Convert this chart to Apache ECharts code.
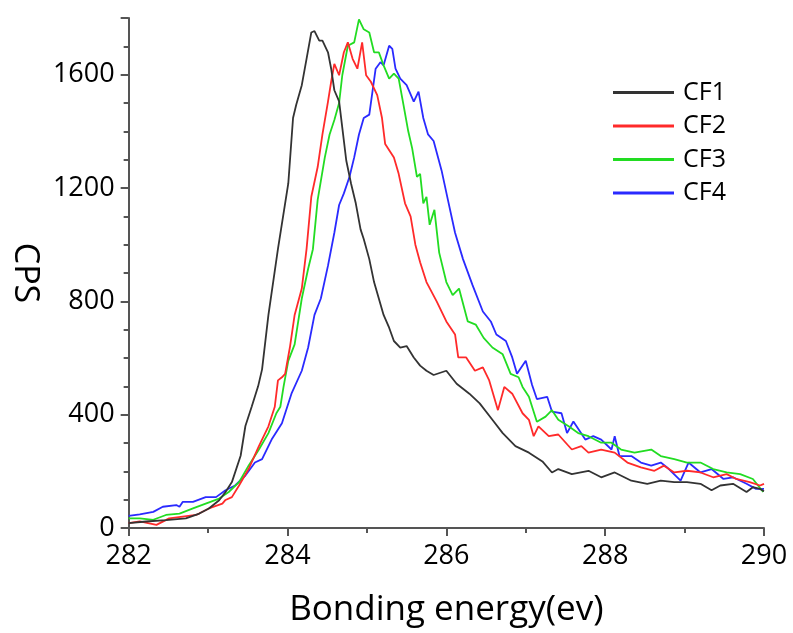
<!DOCTYPE html>
<html>
<head>
<meta charset="utf-8">
<script src="https://cdn.jsdelivr.net/npm/echarts@6/dist/echarts.min.js"></script>
<style>
html,body{margin:0;padding:0;background:#fff;}
#chart{width:793px;height:633px;}
</style>
</head>
<body>
<div id="chart"></div>
<script>
var seriesNames = ['CF1', 'CF2', 'CF3', 'CF4'];
var seriesColors = ['#333333', '#ff2a2a', '#22dc22', '#2a2aff'];
var xTickLabels = [282, 284, 286, 288, 290];
var yTickLabels = [0, 400, 800, 1200, 1600];

var cf1X = [282.00,282.22,282.47,282.72,282.89,283.01,283.14,283.22,283.30,283.41,283.47,283.55,283.63,283.68,283.76,283.88,284.01,284.07,284.11,284.18,284.24,284.30,284.34,284.40,284.44,284.51,284.55,284.59,284.65,284.69,284.74,284.80,284.86,284.92,284.96,285.03,285.09,285.15,285.21,285.28,285.34,285.42,285.50,285.59,285.67,285.75,285.84,286.00,286.13,286.29,286.42,286.58,286.71,286.87,287.04,287.21,287.33,287.41,287.58,287.79,287.95,288.12,288.33,288.53,288.70,288.87,289.03,289.20,289.34,289.45,289.61,289.78,289.86,289.95,290.00];
var cf1Y = [17,23,28,34,51,69,98,127,162,255,360,429,500,560,752,985,1216,1447,1494,1563,1656,1749,1754,1720,1720,1679,1621,1545,1506,1413,1297,1216,1146,1054,1020,949,868,810,752,707,660,637,642,602,573,555,540,555,509,474,440,382,335,289,266,235,196,208,190,202,179,196,167,156,167,162,162,156,133,150,156,127,144,138,130];

var cf2X = [282.00,282.14,282.35,282.51,282.68,282.85,283.01,283.18,283.22,283.30,283.39,283.51,283.64,283.76,283.84,283.88,283.93,283.97,284.03,284.09,284.18,284.24,284.30,284.38,284.44,284.51,284.55,284.59,284.65,284.71,284.76,284.82,284.88,284.94,284.99,285.05,285.13,285.19,285.23,285.34,285.40,285.48,285.55,285.61,285.67,285.75,285.88,286.00,286.11,286.15,286.25,286.36,286.46,286.54,286.65,286.73,286.83,286.96,287.04,287.10,287.16,287.29,287.41,287.58,287.70,287.79,287.95,288.12,288.28,288.45,288.62,288.74,288.87,289.03,289.20,289.36,289.53,289.65,289.82,289.95,290.00];
var cf2Y = [17,23,11,34,40,46,69,86,99,109,150,208,289,359,428,521,532,544,637,752,845,984,1169,1274,1389,1505,1575,1638,1598,1679,1714,1656,1621,1714,1598,1575,1528,1447,1355,1308,1250,1146,1100,1000,938,868,799,729,683,602,602,555,567,521,416,498,474,405,382,324,359,324,330,277,289,266,277,266,231,214,202,220,196,202,196,179,190,173,162,150,156];

var cf3X = [282.00,282.14,282.31,282.47,282.64,282.81,282.97,283.14,283.26,283.39,283.51,283.64,283.76,283.86,283.91,283.95,284.01,284.09,284.18,284.26,284.32,284.38,284.47,284.53,284.59,284.65,284.69,284.76,284.84,284.90,284.96,285.03,285.09,285.15,285.21,285.28,285.34,285.40,285.46,285.52,285.57,285.63,285.67,285.71,285.75,285.79,285.85,285.91,286.00,286.08,286.16,286.27,286.37,286.47,286.58,286.71,286.81,286.91,286.96,287.04,287.14,287.25,287.33,287.41,287.54,287.66,287.79,287.95,288.08,288.20,288.37,288.58,288.70,288.87,289.03,289.20,289.36,289.53,289.70,289.86,289.99];
var cf3Y = [34,34,29,46,51,69,86,104,127,162,220,277,335,405,428,498,590,648,810,915,984,1158,1308,1389,1440,1500,1598,1702,1714,1795,1760,1749,1679,1679,1633,1586,1604,1586,1494,1401,1340,1239,1250,1146,1169,1070,1123,972,868,822,845,729,718,671,637,613,544,532,498,463,375,393,416,382,359,335,324,301,301,277,266,277,254,243,231,231,208,196,190,173,127];

var cf4X = [282.00,282.14,282.31,282.43,282.60,282.64,282.68,282.81,282.97,283.10,283.22,283.34,283.47,283.59,283.68,283.80,283.93,284.05,284.18,284.26,284.34,284.42,284.51,284.59,284.65,284.71,284.78,284.84,284.90,284.96,285.03,285.07,285.11,285.17,285.21,285.28,285.32,285.36,285.42,285.50,285.59,285.65,285.71,285.77,285.84,285.94,286.02,286.11,286.21,286.33,286.46,286.56,286.63,286.75,286.83,286.89,287.00,287.08,287.14,287.27,287.33,287.45,287.52,287.60,287.75,287.85,287.95,288.08,288.12,288.18,288.33,288.45,288.58,288.70,288.78,288.95,289.05,289.20,289.34,289.49,289.61,289.78,289.90,290.00];
var cf4Y = [43,48,57,75,81,75,92,92,109,109,133,150,185,231,243,312,370,474,555,637,752,810,926,1042,1140,1181,1239,1308,1389,1447,1459,1540,1621,1644,1633,1702,1691,1621,1586,1563,1505,1540,1447,1389,1366,1262,1158,1042,949,857,764,729,683,660,602,544,590,505,455,463,411,405,335,376,312,324,312,277,324,254,254,231,220,231,214,167,231,196,208,173,179,156,138,138];

function zip(xs, ys) {
  var out = [];
  for (var i = 0; i < xs.length; i++) out.push([xs[i], ys[i]]);
  return out;
}
var allX = [cf1X, cf2X, cf3X, cf4X];
var allY = [cf1Y, cf2Y, cf3Y, cf4Y];

var FONT = '"Open Sans", "Noto Sans", sans-serif';
var chart = echarts.init(document.getElementById('chart'), null, {renderer: 'canvas'});
var series = seriesNames.map(function (n, i) {
  return {
    name: n,
    type: 'line',
    data: zip(allX[i], allY[i]),
    symbol: 'none',
    smooth: false,
    lineStyle: {color: seriesColors[i], width: 1.8},
    itemStyle: {color: seriesColors[i]},
    z: 10 - i
  };
});

chart.setOption({
  animation: false,
  backgroundColor: '#ffffff',
  grid: {left: 122, right: 29, top: 18, bottom: 97, containLabel: false},
  legend: {
    orient: 'vertical',
    left: 608,
    top: 75,
    icon: 'rect',
    itemWidth: 61,
    itemHeight: 3,
    itemGap: 8.5,
    data: seriesNames,
    textStyle: {fontFamily: FONT, fontSize: 25, color: '#000', lineHeight: 25, padding: [0, 0, 0, 4]}
  },
  xAxis: {
    type: 'value',
    min: 282,
    max: 290,
    interval: 2,
    name: 'Bonding energy(ev)',
    nameLocation: 'middle',
    nameGap: 65,
    nameTextStyle: {fontFamily: FONT, fontSize: 35, color: '#000'},
    axisLine: {show: true, onZero: false, lineStyle: {color: '#555', width: 2}},
    axisTick: {show: true, length: 8, lineStyle: {color: '#555', width: 2}},
    minorTick: {show: true, splitNumber: 2, length: 5, lineStyle: {color: '#555', width: 2}},
    splitLine: {show: false},
    axisLabel: {
      fontFamily: FONT, fontSize: 27, color: '#000', margin: 15,
      formatter: function (v) { return xTickLabels.indexOf(v) >= 0 ? String(v) : ''; }
    }
  },
  yAxis: {
    type: 'value',
    min: 0,
    max: 1800,
    interval: 400,
    name: 'CPS',
    nameLocation: 'middle',
    nameRotate: -90,
    nameGap: 84,
    nameTextStyle: {fontFamily: FONT, fontSize: 34, color: '#000'},
    axisLine: {show: true, onZero: false, lineStyle: {color: '#555', width: 2}},
    axisTick: {show: true, length: 8, lineStyle: {color: '#555', width: 2}},
    minorTick: {show: true, splitNumber: 4, length: 5, lineStyle: {color: '#555', width: 2}},
    splitLine: {show: false},
    axisLabel: {
      fontFamily: FONT, fontSize: 27, color: '#000', margin: 14,
      formatter: function (v) { return yTickLabels.indexOf(v) >= 0 ? String(v) : ''; }
    }
  },
  series: series
});
</script>
</body>
</html>
